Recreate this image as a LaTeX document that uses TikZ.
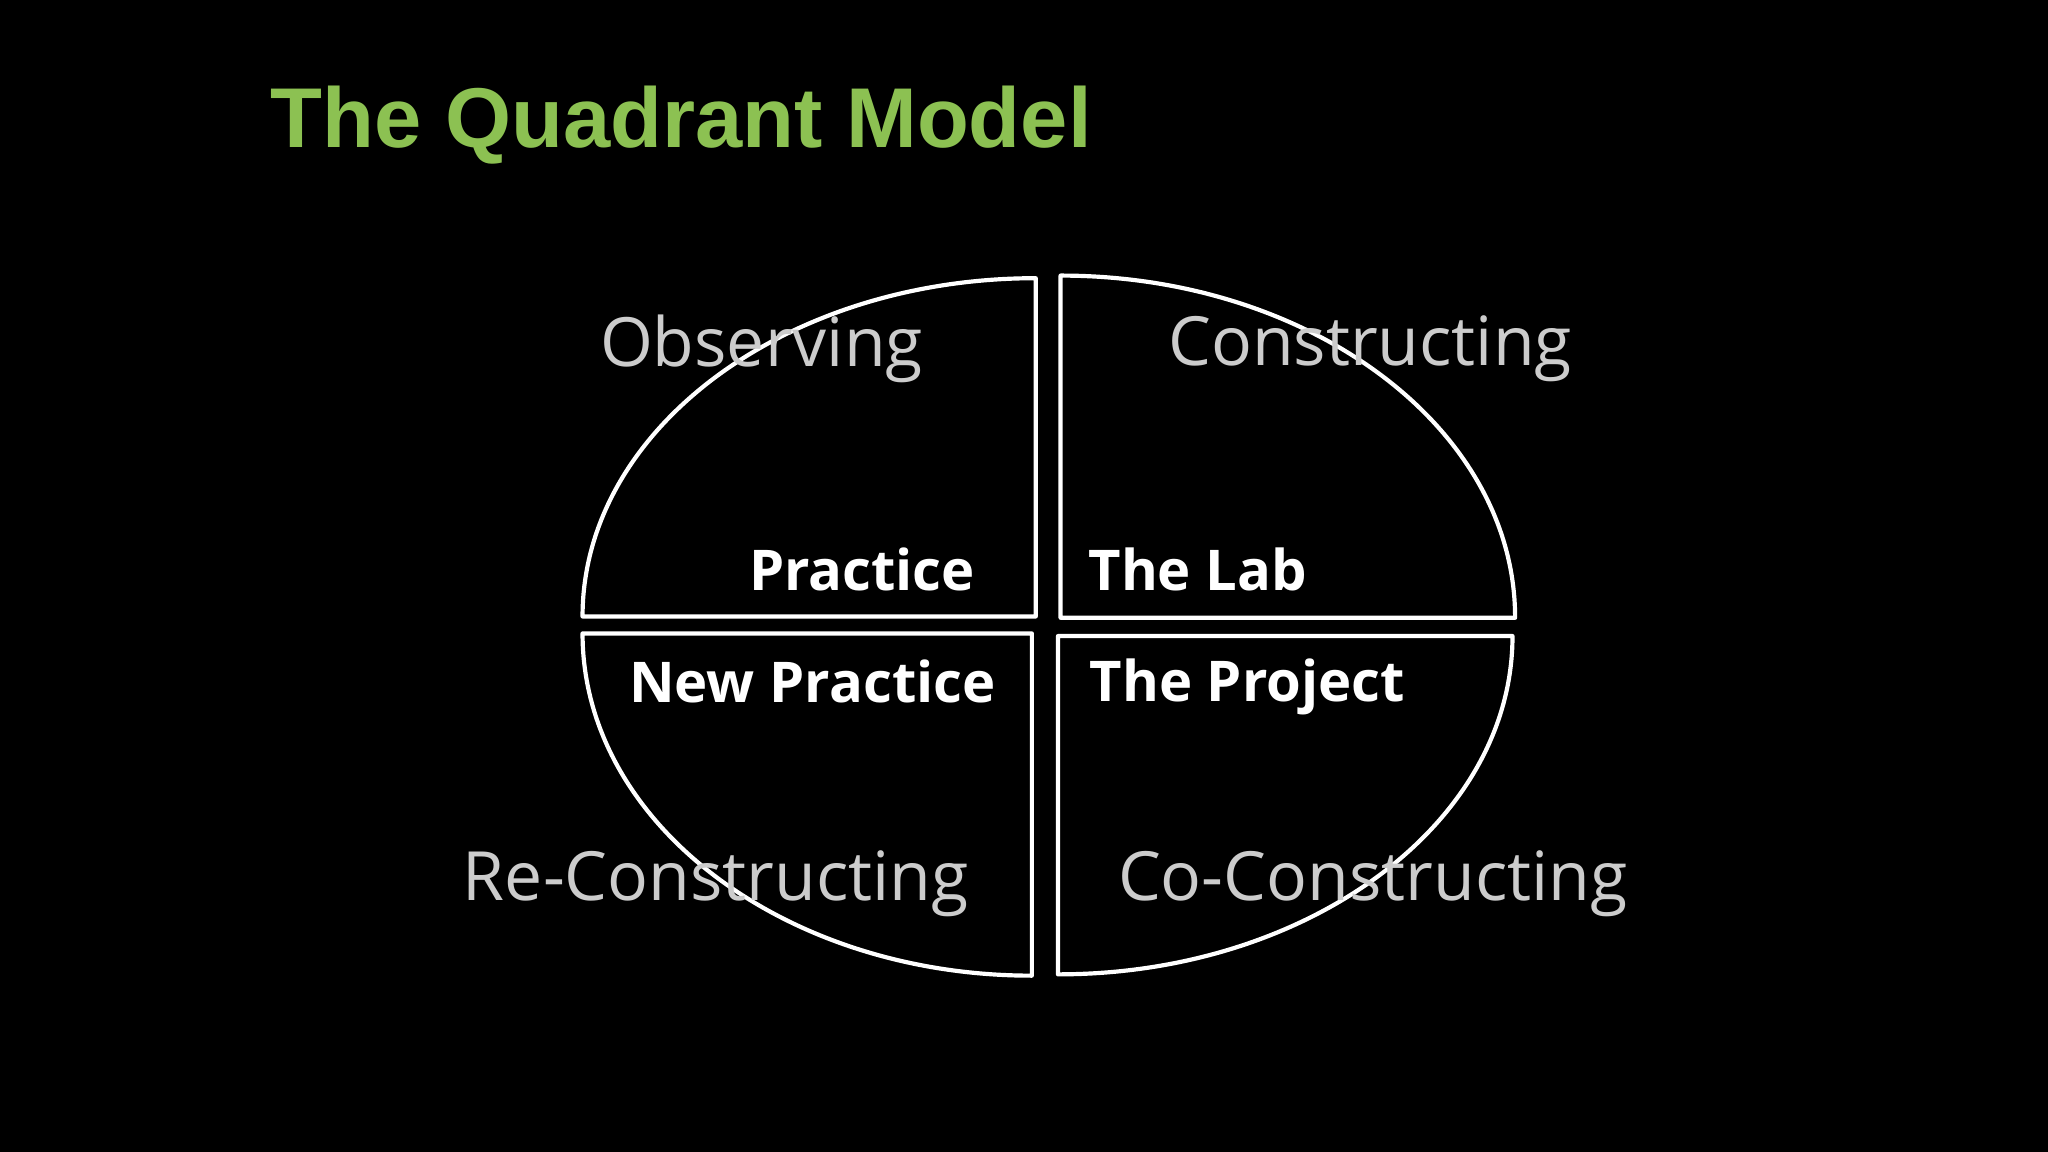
\documentclass[tikz,border=0pt]{standalone}
\usepackage{fontspec}
\setmainfont{Open Sans}
\newfontfamily\titlefont{Liberation Sans}
\definecolor{titlegreen}{HTML}{8CC152}
\begin{document}
\begin{tikzpicture}[x=0.5pt,y=0.5pt,
  quad/.style={draw=white,line width=1.6pt,line join=round},
  outer/.style={text=black!20,font=\fontsize{26}{30}\selectfont},
  inner/.style={text=white,font=\bfseries\fontsize{21.5}{25}\selectfont}]
\fill[black] (0,0) rectangle (1568,882);
\useasboundingbox (0,0) rectangle (1568,882);
\node[anchor=west,inner sep=0,text=titlegreen,font=\titlefont\bfseries\fontsize{32.5}{38}\selectfont] (title) at (207,786) {The Quadrant Model};
\draw[quad] (793,410) -- (446,410) arc[start angle=180,end angle=90,x radius=347,y radius=259] -- cycle;
\draw[quad] (812,409) -- (812,671) arc[start angle=90,end angle=0,x radius=348,y radius=262] -- cycle;
\draw[quad] (446,397) -- (790,397) -- (790,135) arc[start angle=270,end angle=180,x radius=344,y radius=262] -- cycle;
\draw[quad] (810,395) -- (1158,395) arc[start angle=0,end angle=-90,x radius=348,y radius=259] -- cycle;
\node[outer] (obs) at (583,615) {Observing};
\node[outer] (con) at (1049,615) {Constructing};
\node[outer] (recon) at (548,205) {Re-Constructing};
\node[outer] (cocon) at (1051,205) {Co-Constructing};
\node[inner] (prac) at (660,446) {Practice};
\node[inner] (lab) at (917,446) {The Lab};
\node[inner] (newp) at (622,360) {New Practice};
\node[inner] (proj) at (955,356) {The Project};
\end{tikzpicture}
\end{document}
